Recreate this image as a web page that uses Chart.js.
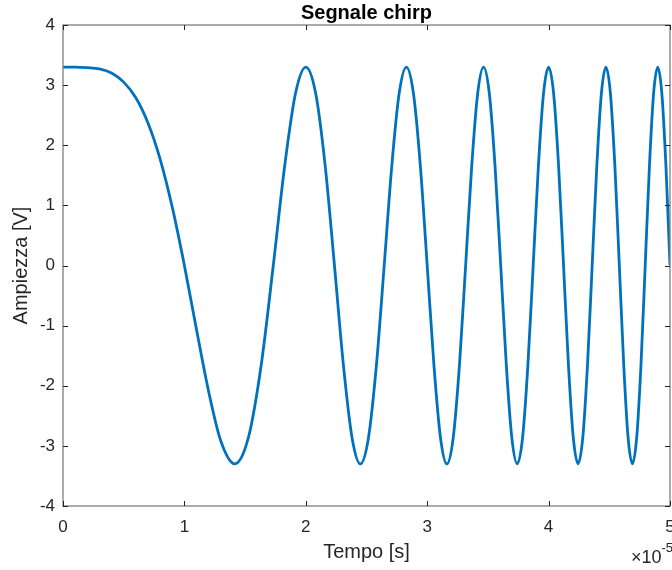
<!DOCTYPE html>
<html>
<head>
<meta charset="utf-8">
<script src="https://cdn.jsdelivr.net/npm/chart.js@4.4.1/dist/chart.umd.min.js"></script>
<style>
  html, body { margin: 0; padding: 0; background: #ffffff; }
  #wrap { width: 672px; height: 570px; }
</style>
</head>
<body>
<div id="wrap"><canvas id="c" width="672" height="570"></canvas></div>
<script>
// Tempo in unità di 1e-5 s (asse con moltiplicatore ×10^-5)
const tempo = [
  0, 0.1, 0.2, 0.3, 0.4, 0.5, 0.6, 0.7, 0.8, 0.9, 1.0, 1.1, 1.2, 1.3,
  1.4142, 1.5275, 1.6330, 1.7321, 1.8257, 1.9149,
  2.0, 2.0817, 2.1602, 2.2361, 2.3094, 2.3805,
  2.4495, 2.5166, 2.5820, 2.6458, 2.7080, 2.7689,
  2.8284, 2.8868, 2.9439, 3.0, 3.0551, 3.1091,
  3.1623, 3.2146, 3.2660, 3.3166, 3.3665, 3.4157,
  3.4641, 3.5119, 3.5590, 3.6056, 3.6515, 3.6968,
  3.7417, 3.7859, 3.8297, 3.8730, 3.9158, 3.9581,
  4.0, 4.0415, 4.0825, 4.1231, 4.1633, 4.2032,
  4.2426, 4.2817, 4.3205, 4.3589, 4.3970, 4.4347,
  4.4721, 4.5093, 4.5461, 4.5826, 4.6188, 4.6547,
  4.6904, 4.7258, 4.7610, 4.7958, 4.8305, 4.8648,
  4.8990, 4.9329, 4.9666, 5.0
];
// Ampiezza in V
const ampiezza = [
  3.30, 3.30, 3.29, 3.27, 3.20, 3.05, 2.79, 2.37, 1.77, 0.97, 0.00, -1.07, -2.10, -2.92,
  -3.30, -2.86, -1.65, 0.00, 1.65, 2.86,
  3.30, 2.86, 1.65, 0.00, -1.65, -2.86,
  -3.30, -2.86, -1.65, 0.00, 1.65, 2.86,
  3.30, 2.86, 1.65, 0.00, -1.65, -2.86,
  -3.30, -2.86, -1.65, 0.00, 1.65, 2.86,
  3.30, 2.86, 1.65, 0.00, -1.65, -2.86,
  -3.30, -2.86, -1.65, 0.00, 1.65, 2.86,
  3.30, 2.86, 1.65, 0.00, -1.65, -2.86,
  -3.30, -2.86, -1.65, 0.00, 1.65, 2.86,
  3.30, 2.86, 1.65, 0.00, -1.65, -2.86,
  -3.30, -2.86, -1.65, 0.00, 1.65, 2.86,
  3.30, 2.86, 1.65, 0.00
];
const xTicks = [0, 1, 2, 3, 4, 5];
const yTicks = [-4, -3, -2, -1, 0, 1, 2, 3, 4];
const titolo = 'Segnale chirp';
const xLabel = 'Tempo [s]';
const yLabel = 'Ampiezza [V]';
const xExponent = '-5';

const FONT = "'Liberation Sans', Arial, Helvetica, sans-serif";
const AXIS_COLOR = '#7f7f7f';
const TICK_COLOR = '#262626';

const points = tempo.map((t, i) => ({ x: t, y: ampiezza[i] }));

const matlabAxes = {
  id: 'matlabAxes',
  afterDraw(chart) {
    const { ctx, chartArea: a, scales } = chart;
    ctx.save();
    // frame
    ctx.strokeStyle = AXIS_COLOR;
    ctx.lineWidth = 1.3;
    ctx.strokeRect(a.left, a.top, a.right - a.left, a.bottom - a.top);
    // inside ticks
    ctx.strokeStyle = TICK_COLOR;
    ctx.lineWidth = 1;
    const tl = 5;
    ctx.beginPath();
    xTicks.forEach(v => {
      const px = Math.round(scales.x.getPixelForValue(v)) + 0.5;
      ctx.moveTo(px, a.bottom); ctx.lineTo(px, a.bottom - tl);
      ctx.moveTo(px, a.top); ctx.lineTo(px, a.top + tl);
    });
    yTicks.forEach(v => {
      const py = Math.round(scales.y.getPixelForValue(v)) + 0.5;
      ctx.moveTo(a.left, py); ctx.lineTo(a.left + tl, py);
      ctx.moveTo(a.right, py); ctx.lineTo(a.right - tl, py);
    });
    ctx.stroke();
    // ×10^-5 multiplier
    ctx.fillStyle = TICK_COLOR;
    ctx.textBaseline = 'alphabetic';
    ctx.textAlign = 'left';
    ctx.font = '18px ' + FONT;
    const base = '\u00d710';
    const wBase = ctx.measureText(base).width;
    ctx.font = '13px ' + FONT;
    const wExp = ctx.measureText(xExponent).width;
    const x0 = 673 - wBase - wExp;
    ctx.font = '18px ' + FONT;
    ctx.fillText(base, x0, 563);
    ctx.font = '13px ' + FONT;
    ctx.fillText(xExponent, x0 + wBase, 552);
    ctx.restore();
  }
};

new Chart(document.getElementById('c'), {
  type: 'line',
  data: {
    datasets: [{
      data: points,
      borderColor: '#0072BD',
      borderWidth: 2.8,
      pointRadius: 0,
      fill: false,
      cubicInterpolationMode: 'monotone'
    }]
  },
  options: {
    responsive: false,
    animation: false,
    devicePixelRatio: 1,
    layout: { padding: { left: 0, right: 2, top: 0, bottom: 0 } },
    plugins: {
      legend: { display: false },
      tooltip: { enabled: false },
      title: {
        display: true,
        fullSize: false,
        text: titolo,
        color: '#000000',
        font: { family: FONT, size: 20, weight: 'bold' },
        padding: { top: 1, bottom: 0 }
      }
    },
    scales: {
      x: {
        type: 'linear',
        min: 0, max: 5,
        afterFit(scale) { scale.height = 64; scale.paddingLeft = 0; scale.paddingRight = 0; },
        afterBuildTicks(scale) { scale.ticks = xTicks.map(v => ({ value: v })); },
        grid: { display: false, drawTicks: false },
        border: { display: false },
        ticks: {
          color: TICK_COLOR,
          font: { family: FONT, size: 17 },
          padding: 11,
          maxRotation: 0,
          callback: v => String(v)
        },
        title: {
          display: true,
          text: xLabel,
          color: TICK_COLOR,
          font: { family: FONT, size: 20 },
          padding: { top: 0, bottom: 6 }
        }
      },
      y: {
        type: 'linear',
        min: -4, max: 4,
        afterFit(scale) { scale.width = 63; scale.paddingTop = 0; scale.paddingBottom = 0; },
        afterBuildTicks(scale) { scale.ticks = yTicks.map(v => ({ value: v })); },
        grid: { display: false, drawTicks: false },
        border: { display: false },
        ticks: {
          color: TICK_COLOR,
          font: { family: FONT, size: 17 },
          padding: 8,
          callback: v => String(v)
        },
        title: {
          display: true,
          text: yLabel,
          color: TICK_COLOR,
          font: { family: FONT, size: 20 },
          padding: { top: 9, bottom: 0 }
        }
      }
    }
  },
  plugins: [matlabAxes]
});
</script>
</body>
</html>
